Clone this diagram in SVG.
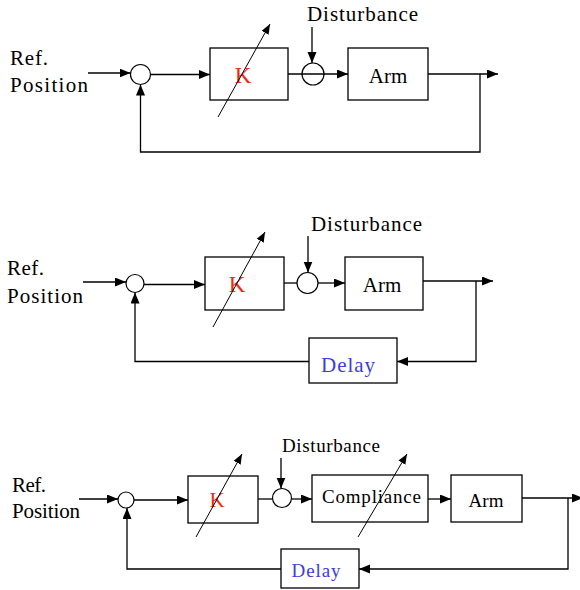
<svg xmlns="http://www.w3.org/2000/svg" width="580" height="590" viewBox="0 0 580 590">
<style>
.ln{fill:none;stroke:#000;stroke-width:1.3}
.dg{fill:none;stroke:#000;stroke-width:1}
.bx{fill:#fff;stroke:#000;stroke-width:1.3}
.sum{fill:#fff;stroke:#000;stroke-width:1.2}
.sumo{fill:none;stroke:#000;stroke-width:1.2}
text{font-family:"Liberation Serif","Times New Roman",serif;font-size:21px;fill:#000}
.k{fill:#f02a10;text-anchor:middle;font-size:23px}
.k3{font-size:21px}
.d{fill:#3c3ce0;text-anchor:middle}
.m{text-anchor:middle}
.s3{font-size:19px}
</style>
<defs>
<marker id="ah" markerUnits="userSpaceOnUse" markerWidth="13" markerHeight="10" refX="11" refY="4.5" orient="auto">
<path d="M0,0 L11,4.5 L0,9 z" fill="#000"/>
</marker>
<marker id="ah2" markerUnits="userSpaceOnUse" markerWidth="11" markerHeight="9" refX="10" refY="4" orient="auto">
<path d="M0,0 L10,4 L0,8 z" fill="#000"/>
</marker>
</defs>

<!-- Diagram 1 -->
<g id="d1-ref"><text x="10" y="65" textLength="38">Ref.</text><text x="10" y="92" textLength="78">Position</text></g>
<g id="d1-sum1"><circle class="sum" cx="140.5" cy="74.5" r="10"/></g>
<g id="d1-k"><rect class="bx" x="210" y="48" width="78" height="52"/><text class="k" x="243" y="83">K</text></g>
<g id="d1-sum2"><circle class="sumo" cx="313" cy="74" r="11"/></g>
<g id="d1-dist"><text x="307" y="21" textLength="111">Disturbance</text></g>
<g id="d1-arm"><rect class="bx" x="348" y="48" width="80" height="52"/><text class="m" x="388" y="83">Arm</text></g>

<!-- Diagram 2 -->
<g id="d2-ref"><text x="7" y="275" textLength="37">Ref.</text><text x="7" y="303" textLength="76">Position</text></g>
<g id="d2-sum1"><circle class="sum" cx="135" cy="283.5" r="9"/></g>
<g id="d2-k"><rect class="bx" x="205" y="257" width="79" height="53"/><text class="k" x="237" y="292">K</text></g>
<g id="d2-sum2"><circle class="sum" cx="307.5" cy="283" r="10.5"/></g>
<g id="d2-dist"><text x="311" y="231" textLength="111">Disturbance</text></g>
<g id="d2-arm"><rect class="bx" x="345" y="257" width="78" height="53"/><text class="m" x="382" y="292">Arm</text></g>
<g id="d2-delay"><rect class="bx" x="309" y="338" width="88" height="45"/><text class="d" x="348" y="372" textLength="54">Delay</text></g>

<!-- Diagram 3 -->
<g id="d3-ref"><text x="12" y="492" textLength="34">Ref.</text><text x="12" y="518" textLength="68">Position</text></g>
<g id="d3-sum1"><circle class="sum" cx="126" cy="500" r="8"/></g>
<g id="d3-k"><rect class="bx" x="188" y="476" width="70" height="47"/><text class="k k3" x="217" y="507">K</text></g>
<g id="d3-sum2"><circle class="sum" cx="282" cy="498" r="9.5"/></g>
<g id="d3-dist"><text class="s3" x="282" y="452" textLength="98">Disturbance</text></g>
<g id="d3-comp"><rect class="bx" x="312" y="475" width="116" height="47"/><text class="s3" x="322" y="503" textLength="99">Compliance</text></g>
<g id="d3-arm"><rect class="bx" x="451" y="475" width="71" height="47"/><text class="m s3" x="486" y="507">Arm</text></g>
<g id="d3-delay"><rect class="bx" x="281" y="549" width="78" height="39"/><text class="d s3" x="316" y="577" textLength="49">Delay</text></g>

<g id="connectors">
<!-- Diagram 1 -->
<line class="ln" x1="88" y1="73" x2="130.5" y2="73" marker-end="url(#ah)"/>
<line class="ln" x1="150.5" y1="74.5" x2="210" y2="74.5" marker-end="url(#ah)"/>
<line class="dg" x1="218" y1="117" x2="270" y2="24" marker-end="url(#ah2)"/>
<line class="ln" x1="288" y1="74" x2="348" y2="74" marker-end="url(#ah)"/>
<line class="ln" x1="312" y1="27" x2="312" y2="63" marker-end="url(#ah)"/>
<line class="ln" x1="428" y1="74" x2="498" y2="74" marker-end="url(#ah)"/>
<polyline class="ln" points="480,74 480,152 140.5,152 140.5,84.5" marker-end="url(#ah)"/>

<!-- Diagram 2 -->
<line class="ln" x1="83" y1="282" x2="126" y2="282" marker-end="url(#ah)"/>
<line class="ln" x1="144" y1="284.5" x2="205" y2="284.5" marker-end="url(#ah)"/>
<line class="dg" x1="213" y1="327" x2="265" y2="232" marker-end="url(#ah2)"/>
<line class="ln" x1="284" y1="283" x2="297" y2="283"/>
<line class="ln" x1="318" y1="283" x2="345" y2="283" marker-end="url(#ah)"/>
<line class="ln" x1="308" y1="236" x2="308" y2="272.5" marker-end="url(#ah)"/>
<line class="ln" x1="423" y1="281" x2="493" y2="281" marker-end="url(#ah)"/>
<polyline class="ln" points="476,281 476,361.5 397,361.5" marker-end="url(#ah)"/>
<polyline class="ln" points="309,361.5 135,361.5 135,292.5" marker-end="url(#ah)"/>

<!-- Diagram 3 -->
<line class="ln" x1="79" y1="499" x2="118" y2="499" marker-end="url(#ah)"/>
<line class="ln" x1="134" y1="500" x2="188" y2="500" marker-end="url(#ah)"/>
<line class="dg" x1="196" y1="537" x2="242" y2="454" marker-end="url(#ah2)"/>
<line class="ln" x1="258" y1="499" x2="272.5" y2="499"/>
<line class="ln" x1="291.5" y1="499" x2="312" y2="499" marker-end="url(#ah)"/>
<line class="ln" x1="281" y1="458" x2="281" y2="488.5" marker-end="url(#ah)"/>
<line class="dg" x1="358" y1="537" x2="407" y2="454" marker-end="url(#ah2)"/>
<line class="ln" x1="428" y1="499" x2="451" y2="499" marker-end="url(#ah)"/>
<line class="ln" x1="522" y1="498" x2="583" y2="498" marker-end="url(#ah)"/>
<polyline class="ln" points="568,498 568,569 359,569" marker-end="url(#ah)"/>
<polyline class="ln" points="281,569 127,569 127,508" marker-end="url(#ah)"/>
</g>
</svg>
